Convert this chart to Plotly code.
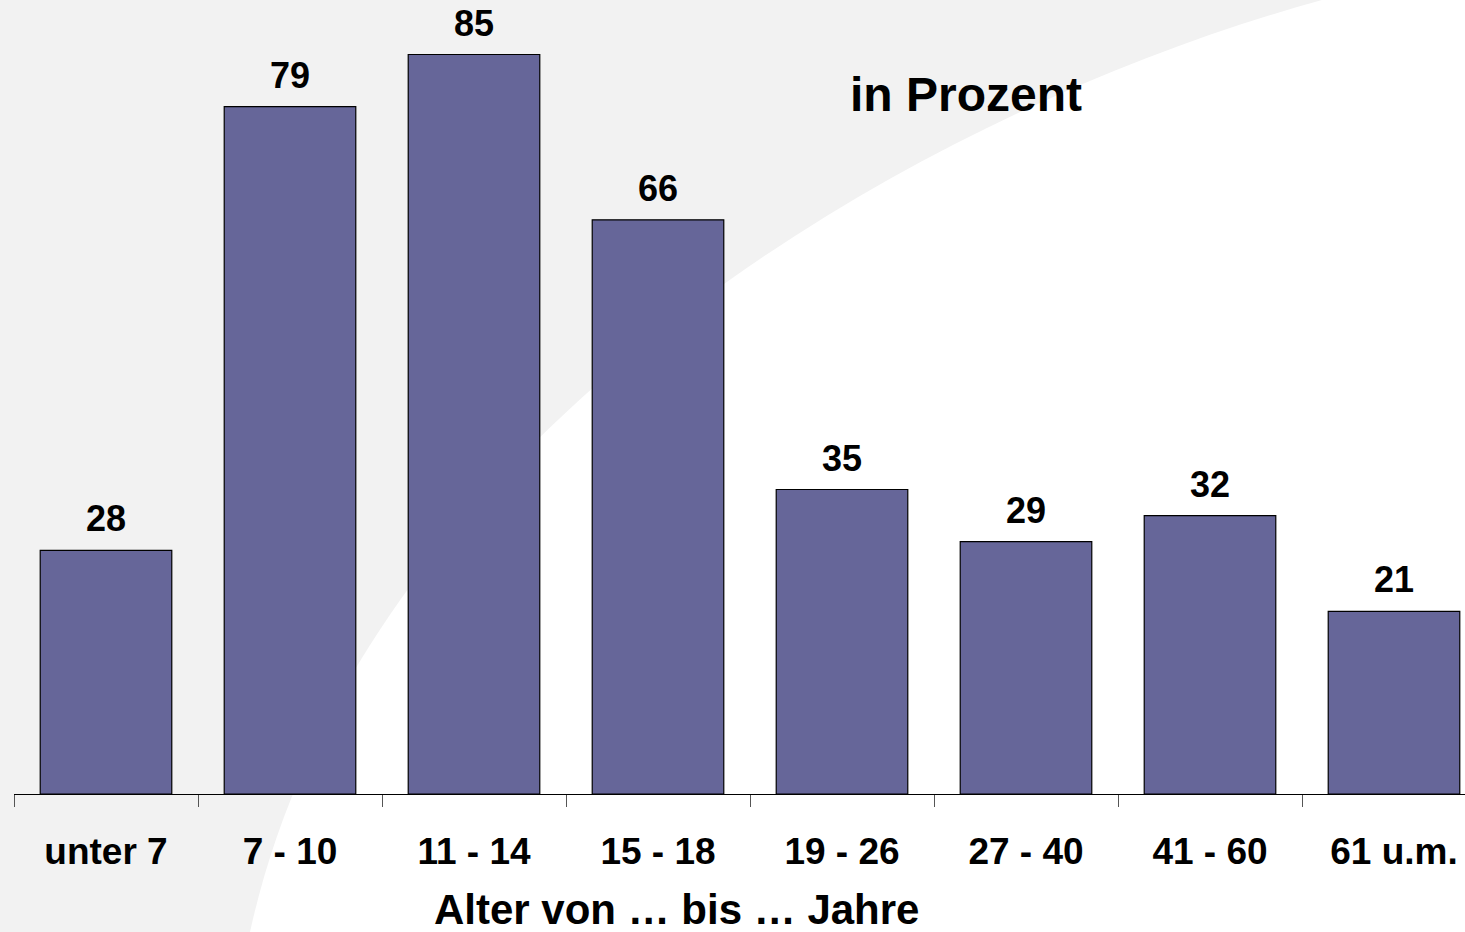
import plotly.graph_objects as go

categories = ["unter 7", "7 - 10", "11 - 14", "15 - 18", "19 - 26", "27 - 40", "41 - 60", "61 u.m."]
values = [28, 79, 85, 66, 35, 29, 32, 21]
value_labels = [str(v) for v in values]
x_title = "Alter von … bis … Jahre"
unit_label = "in Prozent"

W, H = 1465, 932
L, R, T, B = 14, 0, 0, 138
pw, ph = W - L - R, H - T - B

def px(x):
    return (x - L) / pw

def py(y):
    return (H - B - y) / ph

fig = go.Figure()
fig.add_trace(go.Bar(
    x=categories, y=values,
    width=0.715,
    marker=dict(color="#666699", line=dict(color="#000000", width=1.2)),
    hoverinfo="skip",
))

font = "Liberation Sans, Arial, sans-serif"
annotations = []
for c, v, t in zip(categories, values, value_labels):
    annotations.append(dict(
        x=c, y=v, xref="x", yref="y", text=f"<b>{t}</b>", showarrow=False,
        yanchor="bottom", yshift=9, font=dict(family=font, size=36, color="#000"),
    ))
annotations.append(dict(
    x=px(966), y=py(95), xref="paper", yref="paper", text=f"<b>{unit_label}</b>",
    showarrow=False, xanchor="center", yanchor="middle",
    font=dict(family=font, size=48, color="#000"),
))
annotations.append(dict(
    x=px(676), y=py(910), xref="paper", yref="paper", text=f"<b>{x_title}</b>",
    showarrow=False, xanchor="center", yanchor="middle",
    font=dict(family=font, size=42, color="#000"),
))

# white curved background region
pts = [(1322, 0), (920, 110), (360, 430), (250, 932)]
path = "M {} {} C {} {}, {} {}, {} {} L {} {} L {} {} Z".format(
    px(pts[0][0]), py(pts[0][1]),
    px(pts[1][0]), py(pts[1][1]),
    px(pts[2][0]), py(pts[2][1]),
    px(pts[3][0]), py(pts[3][1]),
    px(W + 5), py(H + 5),
    px(W + 5), py(-5),
)

fig.update_layout(
    width=W, height=H,
    margin=dict(l=L, r=R, t=T, b=B, pad=0),
    paper_bgcolor="#f2f2f2",
    plot_bgcolor="rgba(0,0,0,0)",
    showlegend=False,
    bargap=0.285,
    annotations=annotations,
    shapes=[dict(type="path", path=path, xref="paper", yref="paper",
                 fillcolor="#ffffff", line=dict(width=0), layer="below")],
    xaxis=dict(
        type="category",
        range=[-0.5, -0.5 + pw / 184.0],
        ticktext=[f"<b>{c}</b>" for c in categories], tickvals=categories,
        tickson="boundaries", ticks="outside", ticklen=12, tickwidth=1, tickcolor="#555555",
        showline=True, linecolor="#000000", linewidth=1,
        showgrid=False, zeroline=False,
        tickfont=dict(family=font, size=37, color="#000"),
        ticklabelstandoff=25,
        fixedrange=True,
    ),
    yaxis=dict(range=[0, ph / 8.7], visible=False, showgrid=False, fixedrange=True),
)

fig.write_html("out.html", config=dict(displayModeBar=False),
               post_script="document.body.style.margin='0';document.body.style.overflow='hidden';")
